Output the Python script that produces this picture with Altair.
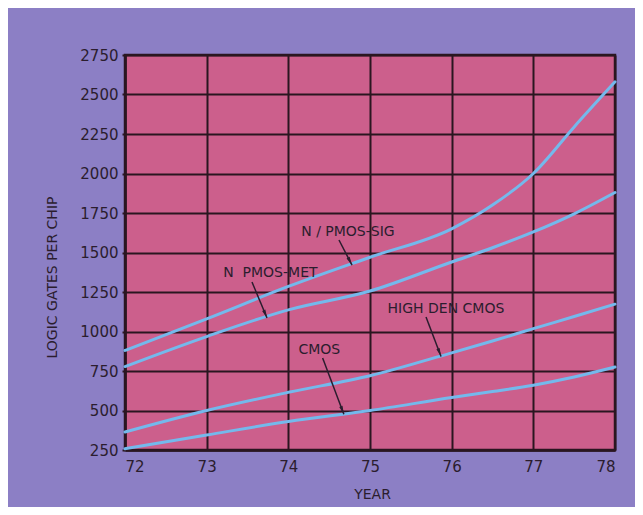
import math
import altair as alt
import pandas as pd

# ---- data ----
years = [72, 73, 74, 75, 76, 76.5, 77, 77.5, 78]
n_pmos_sig = [880, 1080, 1285, 1470, 1650, 1800, 2000, 2295, 2580]
n_pmos_met = [778, 968, 1137, 1256, 1440, 1530, 1630, 1745, 1880]
high_den_cmos = [364, 500, 615, 720, 865, 940, 1018, 1095, 1173]
cmos = [258, 345, 430, 500, 582, 620, 660, 712, 775]

x_ticks = [72, 73, 74, 75, 76, 77, 78]
y_ticks = [250, 500, 750, 1000, 1250, 1500, 1750, 2000, 2250, 2500, 2750]

# annotation labels (text anchor and arrow start/end in data units)
ann_labels = ["N / PMOS-SIG", "N\u00a0\u00a0PMOS-MET", "HIGH DEN CMOS", "CMOS"]
ann_tx = [74.73, 73.78, 75.93, 74.38]
ann_ty = [1630, 1370, 1142, 883]
ann_x1 = [74.62, 73.555, 75.686, 74.42]
ann_y1 = [1579, 1313, 1092, 832]
ann_x2 = [74.78, 73.739, 75.87, 74.68]
ann_y2 = [1420, 1085, 842, 476]

W, H = 490, 395
XDOM = [72, 78]
YDOM = [250, 2750]
px_per_x = W / (XDOM[1] - XDOM[0])
px_per_y = H / (YDOM[1] - YDOM[0])

BG = "#8c7fc5"
PLOT = "#cc5f8c"
GRID = "#2a1620"
LINE = "#74b9ec"
TXT = "#2b1d2e"
FONT = "DejaVu Sans"

rows = []
for name, vals in [("N/PMOS-SIG", n_pmos_sig), ("N PMOS-MET", n_pmos_met),
                   ("HIGH DEN CMOS", high_den_cmos), ("CMOS", cmos)]:
    for yr, v in zip(years, vals):
        rows.append({"series": name, "year": yr, "value": v})
df = pd.DataFrame(rows)

angles = []
for x1, y1, x2, y2 in zip(ann_x1, ann_y1, ann_x2, ann_y2):
    dx = (x2 - x1) * px_per_x
    dy = -(y2 - y1) * px_per_y
    a = math.degrees(math.atan2(dx, -dy)) % 360
    angles.append(a)

ann = pd.DataFrame({"label": ann_labels, "tx": ann_tx, "ty": ann_ty,
                    "x1": ann_x1, "y1": ann_y1, "x2": ann_x2, "y2": ann_y2,
                    "angle": angles})

xs = alt.Scale(domain=XDOM, nice=False, zero=False)
ys = alt.Scale(domain=YDOM, nice=False, zero=False)

x_axis = alt.Axis(values=x_ticks, format="d", title="YEAR", grid=True,
                  gridColor=GRID, gridWidth=2, gridOpacity=1,
                  domainColor=GRID, domainWidth=2.5, tickColor=GRID, tickSize=0,
                  labelFont=FONT, labelFontSize=15, labelColor=TXT, labelPadding=9,
                  titleFont=FONT, titleFontSize=14, titleColor=TXT, titleFontWeight="normal",
                  titleX=247, titleY=44, titleBaseline="middle", titleAlign="center")
y_axis = alt.Axis(values=y_ticks, format="d", title="LOGIC GATES PER CHIP", grid=True,
                  gridColor=GRID, gridWidth=2, gridOpacity=1,
                  domainColor=GRID, domainWidth=2.5, tickColor=GRID, tickSize=3, tickWidth=2,
                  labelFont=FONT, labelFontSize=15, labelColor=TXT, labelPadding=4,
                  titleFont=FONT, titleFontSize=14, titleColor=TXT, titleFontWeight="normal",
                  titleAngle=270, titleX=-73, titleY=222, titleBaseline="middle",
                  titleAlign="center")

lines = alt.Chart(df).mark_line(color=LINE, strokeWidth=3, interpolate="monotone",
                                strokeCap="round").encode(
    x=alt.X("year:Q", scale=xs, axis=x_axis),
    y=alt.Y("value:Q", scale=ys, axis=y_axis),
    detail="series:N",
)

texts = alt.Chart(ann).mark_text(font=FONT, fontSize=14, color=TXT, align="center",
                                 baseline="middle").encode(
    x=alt.X("tx:Q", scale=xs, axis=x_axis),
    y=alt.Y("ty:Q", scale=ys, axis=y_axis),
    text="label:N",
)

arrows = alt.Chart(ann).mark_rule(color=TXT, strokeWidth=1.5).encode(
    x=alt.X("x1:Q", scale=xs, axis=x_axis),
    y=alt.Y("y1:Q", scale=ys, axis=y_axis),
    x2="x2:Q",
    y2="y2:Q",
)

heads = alt.Chart(ann).mark_point(shape="M0,0L-0.35,1.7L0.35,1.7Z", filled=True, size=100,
                                  color=TXT, opacity=1, strokeWidth=0).encode(
    x=alt.X("x2:Q", scale=xs, axis=x_axis),
    y=alt.Y("y2:Q", scale=ys, axis=y_axis),
    angle=alt.Angle("angle:Q", scale=None),
)

chart = alt.layer(lines, arrows, heads, texts).properties(
    width=W, height=H,
    autosize=alt.AutoSizeParams(type="none"),
    padding={"left": 117, "top": 47, "right": 20, "bottom": 57},
    background=BG,
).configure_view(fill=PLOT, stroke=GRID, strokeWidth=2.5)

chart.save("out.html", embed_options={"renderer": "svg", "actions": False})
